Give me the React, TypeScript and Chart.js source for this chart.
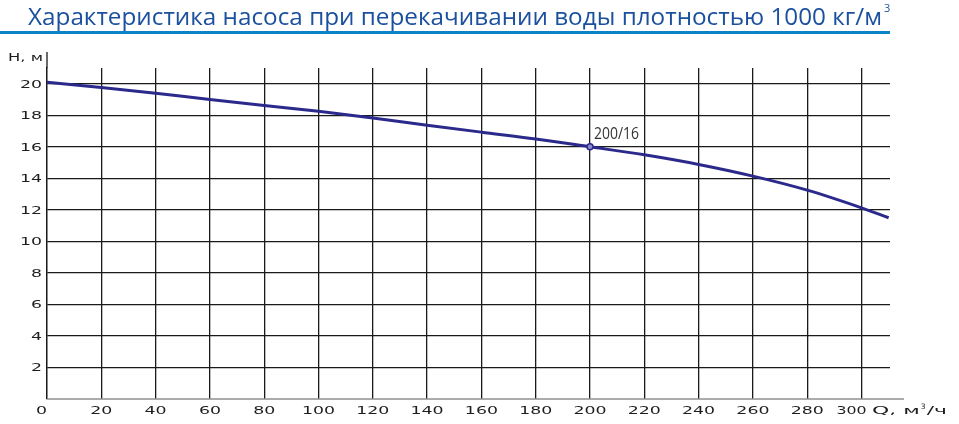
import { useEffect, useRef } from 'react';
import { Chart, registerables } from 'chart.js';

Chart.register(...registerables);

// Характеристика насоса: Q (м³/ч) -> H (м)
const qValues = [0, 20, 40, 60, 80, 100, 120, 140, 160, 180, 200, 220, 240, 260, 280, 300, 310];
const hValues = [20.1, 19.77, 19.4, 19.0, 18.62, 18.25, 17.83, 17.37, 16.93, 16.5, 16.0, 15.49, 14.88, 14.14, 13.25, 12.13, 11.5];

const xTicks = [0, 20, 40, 60, 80, 100, 120, 140, 160, 180, 200, 220, 240, 260, 280, 300];
const yTicks = [2, 4, 6, 8, 10, 12, 14, 16, 18, 20];

const workPoint = { q: 200, h: 16, label: '200/16' };

const titleText = 'Характеристика насоса при перекачивании воды плотностью 1000 кг/м';
const xAxisTitle = 'Q, м';
const xAxisTitleEnd = '/ч';
const yAxisTitle = 'H, м';

const LINE_COLOR = '#2b2a8c';
const GRID_COLOR = '#1a1a1a';
const LABEL_FONT = '10.5px "DejaVu Sans"';

// texte étiré horizontalement (police large comme sur l'original)
function wideText(ctx: CanvasRenderingContext2D, text: string, x: number, y: number, align: 'left' | 'center' | 'right', sx: number) {
  ctx.save();
  ctx.font = LABEL_FONT;
  const w = ctx.measureText(text).width * sx;
  let left = x;
  if (align === 'center') left = x - w / 2;
  if (align === 'right') left = x - w;
  ctx.translate(left, y);
  ctx.scale(sx, 1);
  ctx.textAlign = 'left';
  ctx.fillText(text, 0, 0);
  ctx.restore();
  return w;
}

const decorPlugin = {
  id: 'decor',
  afterDraw(chart: any) {
    const ctx: CanvasRenderingContext2D = chart.ctx;
    const xs = chart.scales.x;
    const ys = chart.scales.y;
    const area = chart.chartArea;

    // titre
    ctx.save();
    ctx.fillStyle = '#1a509e';
    ctx.font = '24px "Open Sans"';
    ctx.textBaseline = 'alphabetic';
    const tw = ctx.measureText(titleText).width;
    const tsx = 854 / tw;
    ctx.save();
    ctx.translate(28, 25);
    ctx.scale(tsx, 1);
    ctx.fillText(titleText, 0, 0);
    ctx.restore();
    ctx.font = '11px "Open Sans"';
    ctx.fillText('3', 28 + 854 + 2, 12);
    ctx.fillStyle = '#0a84c6';
    ctx.fillRect(0, 31, 890, 3);
    ctx.restore();

    // prolongements des axes
    ctx.save();
    ctx.strokeStyle = GRID_COLOR;
    ctx.lineWidth = 1.3;
    ctx.beginPath();
    ctx.moveTo(area.left, area.top);
    ctx.lineTo(area.left, 52);
    ctx.stroke();
    ctx.strokeStyle = '#8f8f8f';
    ctx.lineWidth = 1.6;
    ctx.beginPath();
    ctx.moveTo(area.left, area.bottom);
    ctx.lineTo(904, area.bottom);
    ctx.stroke();
    ctx.restore();

    // graduations
    ctx.save();
    ctx.fillStyle = '#1e1e1e';
    ctx.textBaseline = 'alphabetic';
    xTicks.forEach((v) => {
      const px = xs.getPixelForValue(v);
      if (v === 0) wideText(ctx, '0', px - 5.5, 414, 'center', 1.65);
      else if (v === 300) wideText(ctx, String(v), px + 5, 414, 'right', 1.5);
      else wideText(ctx, String(v), px, 414, 'center', 1.65);
    });
    yTicks.forEach((v) => {
      const py = ys.getPixelForValue(v);
      wideText(ctx, String(v), 42, py + 3.8, 'right', 1.65);
    });

    // titres des axes
    ctx.font = LABEL_FONT;
    const hw = ctx.measureText(yAxisTitle).width;
    wideText(ctx, yAxisTitle, 8, 61, 'left', 35 / hw);
    const qStart = 872;
    ctx.font = LABEL_FONT;
    const qw = ctx.measureText(xAxisTitle).width + ctx.measureText(xAxisTitleEnd).width;
    const qsx = 68 / qw;
    const w1 = wideText(ctx, xAxisTitle, qStart, 414, 'left', qsx);
    ctx.font = '7.5px "DejaVu Sans"';
    ctx.fillText('3', qStart + w1 + 1, 408.5);
    wideText(ctx, xAxisTitleEnd, qStart + w1 + 7, 414, 'left', qsx);

    // point de fonctionnement
    const px = xs.getPixelForValue(workPoint.q);
    const py = ys.getPixelForValue(workPoint.h);
    ctx.font = '17px "Open Sans"';
    ctx.fillStyle = '#333333';
    const lw = ctx.measureText(workPoint.label).width;
    ctx.translate(px + 4, py - 7.5);
    ctx.scale(45 / lw, 1);
    ctx.fillText(workPoint.label, 0, 0);
    ctx.restore();
  },
};

export default function App() {
  const chartRef = useRef<HTMLCanvasElement>(null);
  const chartInstance = useRef<Chart | null>(null);

  useEffect(() => {
    if (!chartRef.current) return;
    if (chartInstance.current) chartInstance.current.destroy();
    const ctx = chartRef.current.getContext('2d');
    if (!ctx) return;

    chartInstance.current = new Chart(ctx, {
      type: 'line',
      data: {
        datasets: [
          {
            label: 'H(Q)',
            data: qValues.map((q, i) => ({ x: q, y: hValues[i] })),
            borderColor: LINE_COLOR,
            borderWidth: 3,
            cubicInterpolationMode: 'monotone',
            pointRadius: qValues.map((q) => (q === workPoint.q ? 3 : 0)),
            pointBackgroundColor: '#8c8cc8',
            pointBorderColor: LINE_COLOR,
            pointBorderWidth: 1.5,
            fill: false,
          },
        ],
      },
      plugins: [decorPlugin],
      options: {
        animation: false,
        responsive: true,
        maintainAspectRatio: false,
        layout: { padding: { left: 0, top: 68, right: 69, bottom: 0 } },
        scales: {
          x: {
            type: 'linear',
            min: 0,
            max: 310.5,
            afterBuildTicks: (axis: any) => {
              axis.ticks = xTicks.map((v) => ({ value: v }));
            },
            afterFit: (axis: any) => {
              axis.height = 25;
            },
            ticks: { display: false },
            grid: { color: GRID_COLOR, lineWidth: 1.3, drawTicks: false },
            border: { display: false },
          },
          y: {
            type: 'linear',
            min: 0,
            max: 21,
            afterBuildTicks: (axis: any) => {
              axis.ticks = yTicks.map((v) => ({ value: v }));
            },
            afterFit: (axis: any) => {
              axis.width = 47;
            },
            ticks: { display: false },
            grid: { color: GRID_COLOR, lineWidth: 1.3, drawTicks: false },
            border: { display: true, color: GRID_COLOR, width: 1.3 },
          },
        },
        plugins: {
          legend: { display: false },
          tooltip: { enabled: false },
        },
      },
    });

    return () => {
      if (chartInstance.current) {
        chartInstance.current.destroy();
        chartInstance.current = null;
      }
    };
  }, []);

  return (
    <div style={{ position: 'absolute', left: 0, top: 0, width: 959, height: 424, background: '#fff' }}>
      <canvas ref={chartRef} />
    </div>
  );
}
